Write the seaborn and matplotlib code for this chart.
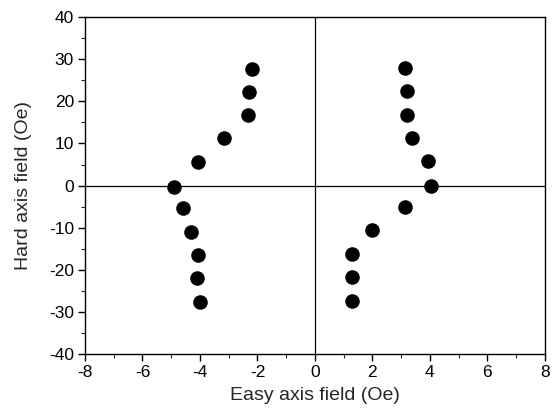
import matplotlib.pyplot as plt
import matplotlib.ticker as mticker
import seaborn as sns
import pandas as pd

# left branch
left_x = [-2.20, -2.28, -2.32, -3.15, -4.08, -4.89, -4.60, -4.31, -4.08, -4.11, -4.00]
left_y = [27.7, 22.3, 16.7, 11.3, 5.6, -0.3, -5.3, -11.0, -16.4, -21.9, -27.6]
# right branch
right_x = [3.15, 3.22, 3.22, 3.39, 3.94, 4.03, 3.13, 1.97, 1.30, 1.28, 1.28]
right_y = [27.9, 22.5, 16.8, 11.4, 5.8, -0.2, -5.1, -10.6, -16.2, -21.6, -27.4]

df = pd.DataFrame({'easy': left_x + right_x, 'hard': left_y + right_y})

sns.set_style("ticks")
plt.rcParams['font.family'] = ['Liberation Sans', 'DejaVu Sans']
plt.rcParams['axes.unicode_minus'] = False

fig = plt.figure(figsize=(5.52, 4.17), dpi=100)
ax = fig.add_axes([0.154, 0.151, 0.833, 0.808])

ax.axhline(0, color='black', lw=0.9, zorder=1)
ax.axvline(0, color='black', lw=0.9, zorder=1)
sns.scatterplot(data=df, x='easy', y='hard', color='black', s=110,
                edgecolor='black', linewidth=0, ax=ax, zorder=3)

ax.set_xlim(-8, 8)
ax.set_ylim(-40, 40)
ax.set_xticks(range(-8, 9, 2))
ax.set_yticks(range(-40, 41, 10))
ax.xaxis.set_minor_locator(mticker.MultipleLocator(1))
ax.yaxis.set_minor_locator(mticker.MultipleLocator(5))
ax.tick_params(which='major', direction='out', length=5, width=1, labelsize=12.5,
               colors='black', pad=3)
ax.tick_params(which='minor', direction='out', length=3, width=0.8)
for sp in ax.spines.values():
    sp.set_visible(True)
    sp.set_color('black')
    sp.set_linewidth(1)

ax.set_xlabel('Easy axis field (Oe)', fontsize=14, labelpad=5)
ax.set_ylabel('Hard axis field (Oe)', fontsize=14, labelpad=12)

fig.savefig('out.png', dpi=100)
